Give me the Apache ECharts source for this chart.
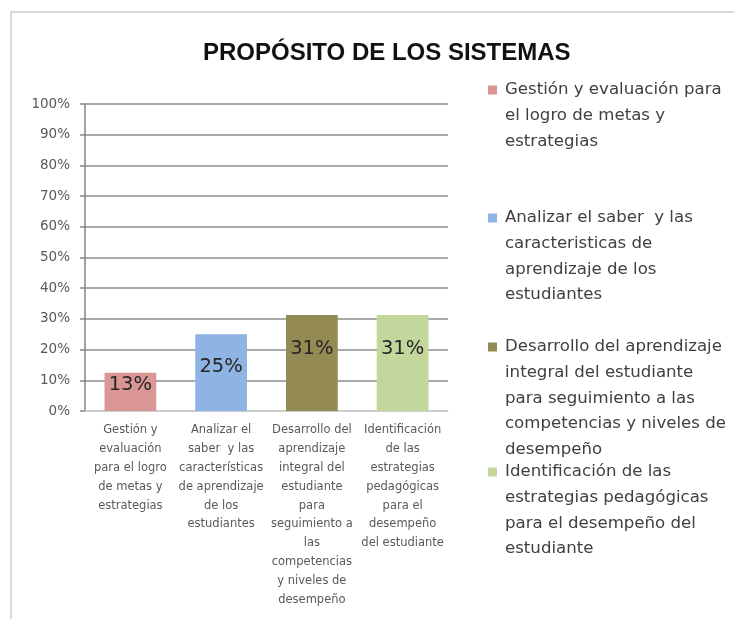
<!DOCTYPE html>
<html>
<head>
<meta charset="utf-8">
<script src="https://cdn.jsdelivr.net/npm/echarts@6/dist/echarts.min.js"></script>
<style>
html,body{margin:0;padding:0;background:#fff;}
#chart{width:734px;height:619px;}
</style>
</head>
<body>
<div id="chart"></div>
<script>
// ---- data ----
const titleText = 'PROPÓSITO DE LOS SISTEMAS';
const categoryLabels = [
  'Gestión y\nevaluación\npara el logro\nde metas y\nestrategias',
  'Analizar el\nsaber  y las\ncaracterísticas\nde aprendizaje\nde los\nestudiantes',
  'Desarrollo del\naprendizaje\nintegral del\nestudiante\npara\nseguimiento a\nlas\ncompetencias\ny niveles de\ndesempeño',
  'Identificación\nde las\nestrategias\npedagógicas\npara el\ndesempeño\ndel estudiante'
];
const seriesNames = [
  'Gestión y evaluación para\nel logro de metas y\nestrategias',
  'Analizar el saber  y las\ncaracteristicas de\naprendizaje de los\nestudiantes',
  'Desarrollo del aprendizaje\nintegral del estudiante\npara seguimiento a las\ncompetencias y niveles de\ndesempeño',
  'Identificación de las\nestrategias pedagógicas\npara el desempeño del\nestudiante'
];
const values = [0.125, 0.25, 0.3125, 0.3125];
const yTicks = [0, 0.1, 0.2, 0.3, 0.4, 0.5, 0.6, 0.7, 0.8, 0.9, 1.0];

// ---- styles ----
const colors = ['#D99694', '#8EB4E3', '#948A54', '#C3D69B'];
const labelPos = [['50%', '33%'], ['50%', '43%'], ['50%', '35%'], ['50%', '35%']];
const legendFirstLineY = [90, 218, 347, 472];
const LH = 25.7;
const SQ = 9;

const chart = echarts.init(document.getElementById('chart'));

const series = values.map((v, i) => ({
  name: seriesNames[i],
  type: 'bar',
  stack: 'total',
  barWidth: '57%',
  itemStyle: { color: colors[i] },
  data: categoryLabels.map((c, j) => (j === i ? v : null)),
  label: {
    show: true,
    position: labelPos[i],
    align: 'center',
    verticalAlign: 'middle',
    fontFamily: 'DejaVu Sans',
    fontSize: 19.5,
    color: '#262626',
    formatter: p => Math.round(p.value * 100) + '%'
  }
}));

const legends = seriesNames.map((n, i) => {
  const lines = n.split('\n').length;
  const H = lines * LH;
  const y0 = LH / 2 - SQ / 2;
  // square marker aligned with the first text line
  const iconPath = 'path://M0,0M0,' + y0 + 'L' + SQ + ',' + y0 + 'L' + SQ + ',' + (y0 + SQ) +
    'L0,' + (y0 + SQ) + 'ZM' + SQ + ',' + H;
  return {
    data: [{ name: n, icon: iconPath }],
    orient: 'vertical',
    left: 488,
    top: legendFirstLineY[i] - LH / 2,
    padding: 0,
    itemWidth: SQ,
    itemHeight: H,
    selectedMode: false,
    textStyle: {
      fontFamily: 'DejaVu Sans',
      fontSize: 16.6,
      color: '#404040',
      lineHeight: LH,
      padding: [0, 0, 0, 3]
    }
  };
});

chart.setOption({
  animation: false,
  backgroundColor: '#fff',
  title: {
    text: titleText,
    left: 198,
    top: 36.5,
    textStyle: {
      fontFamily: 'Liberation Sans',
      fontWeight: 'bold',
      fontSize: 24,
      color: '#111'
    }
  },
  graphic: [{
    type: 'rect',
    shape: { x: 11, y: 12, width: 900, height: 800 },
    style: { fill: null, stroke: '#d9d9d9', lineWidth: 2 },
    silent: true
  }],
  legend: legends,
  grid: { left: 85, right: 286, top: 104, bottom: 208 },
  xAxis: {
    type: 'category',
    data: categoryLabels,
    axisLine: { lineStyle: { color: '#d9d9d9', width: 1.5 } },
    axisTick: { show: false },
    axisLabel: {
      interval: 0,
      margin: 10,
      fontFamily: 'DejaVu Sans',
      fontSize: 11.5,
      lineHeight: 18.8,
      color: '#595959'
    }
  },
  yAxis: {
    type: 'value',
    min: yTicks[0],
    max: yTicks[yTicks.length - 1],
    interval: yTicks[1] - yTicks[0],
    axisLine: { show: true, lineStyle: { color: '#868686', width: 1.5 } },
    axisTick: { show: true, length: 5, lineStyle: { color: '#868686', width: 1.5 } },
    splitLine: { lineStyle: { color: '#8c8c8c', width: 1.5 } },
    axisLabel: {
      margin: 15,
      fontFamily: 'DejaVu Sans',
      fontSize: 13.5,
      color: '#595959',
      formatter: v => Math.round(v * 100) + '%'
    }
  },
  series: series
});
</script>
</body>
</html>
